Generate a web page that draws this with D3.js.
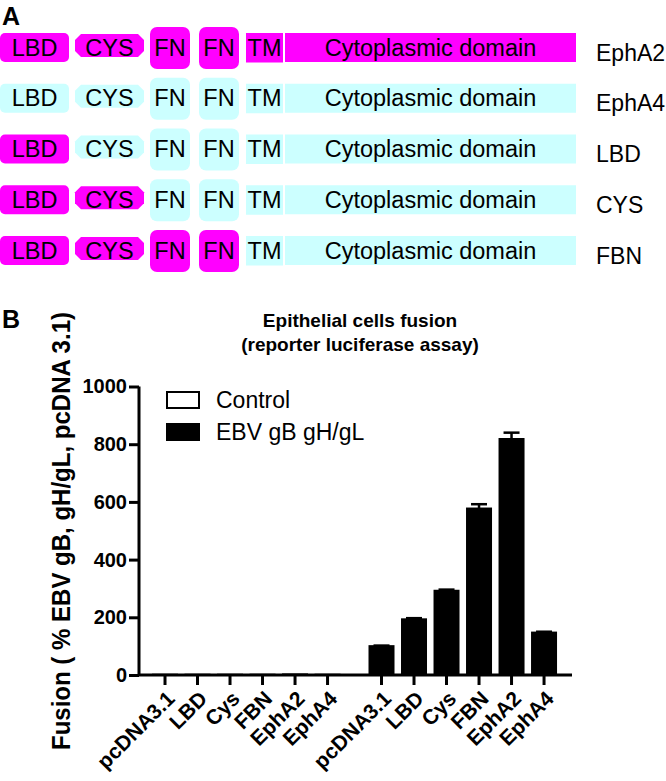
<!DOCTYPE html>
<html><head><meta charset="utf-8">
<script src="https://cdn.jsdelivr.net/npm/d3@7"></script>
<style>
html,body{margin:0;padding:0;background:#fff;}
svg{display:block;font-family:"Liberation Sans",Arial,sans-serif;}
</style></head>
<body>
<svg id="chart" width="666" height="781"></svg>
<script>
// ---------- Panel A data ----------
const constructs = ["EphA2", "EphA4", "LBD", "CYS", "FBN"];
const domainNames = ["LBD", "CYS", "FN", "FN", "TM", "Cytoplasmic domain"];
// number of leading domains that come from EphA2 (magenta), rest from EphA4 (cyan)
const ephA2DomainCount = [6, 0, 1, 2, 4];

// ---------- Panel B data ----------
const xLabels = ["pcDNA3.1", "LBD", "Cys", "FBN", "EphA2", "EphA4"];
const seriesNames = ["Control", "EBV gB gH/gL"];
const controlValues = [1, 1, 1, 1, 2, 1];
const controlErrors = [0, 0, 0, 0, 0, 0];
const ebvValues = [100, 193, 292, 577, 818, 147];
const ebvErrors = [2, 4, 4, 15, 22, 3];
const yTicks = [0, 200, 400, 600, 800, 1000];

const svg = d3.select("#chart");
const MAG = "#ff00ff", CYA = "#ccffff";

// ================= Panel A =================
svg.append("text").attr("x", 2).attr("y", 25).attr("font-size", 25).attr("font-weight", "bold").text("A");

const rowY = d3.scalePoint().domain(constructs).range([47.5, 250.5]);
const shapes = [
  {x0: 0,   x1: 69,  t: -14.5, b: 14.5, rx: 5, kind: "rect"},
  {x0: 75,  x1: 144, t: -13.5, b: 9.5,  cut: 6, kind: "oct"},
  {x0: 150, x1: 190, t: -20.5, b: 21.5, rx: 7, kind: "rect"},
  {x0: 199, x1: 239, t: -20.5, b: 21.5, rx: 7, kind: "rect"},
  {x0: 246, x1: 283, t: -14.5, b: 15,   rx: 0, kind: "rect"},
  {x0: 285, x1: 576, t: -14.5, b: 14.5, rx: 0, kind: "rect"}
];

constructs.forEach((c, ci) => {
  const cy = rowY(c);
  const g = svg.append("g");
  domainNames.forEach((dn, di) => {
    const s = shapes[di];
    const fill = di < ephA2DomainCount[ci] ? MAG : CYA;
    if (s.kind === "rect") {
      g.append("rect").attr("x", s.x0).attr("y", cy + s.t)
        .attr("width", s.x1 - s.x0).attr("height", s.b - s.t)
        .attr("rx", s.rx).attr("fill", fill);
    } else {
      const k = s.cut, y0 = cy + s.t, y1 = cy + s.b;
      const pts = [[s.x0 + k, y0], [s.x1 - k, y0], [s.x1, y0 + k], [s.x1, y1 - k],
                   [s.x1 - k, y1], [s.x0 + k, y1], [s.x0, y1 - k], [s.x0, y0 + k]];
      g.append("polygon").attr("points", pts.map(p => p.join(",")).join(" ")).attr("fill", fill);
    }
    g.append("text").attr("x", (s.x0 + s.x1) / 2).attr("y", cy + 8)
      .attr("text-anchor", "middle").attr("font-size", 23.5).attr("fill", "#000").text(dn);
  });
  svg.append("text").attr("x", 596).attr("y", cy + 13).attr("font-size", 23).text(c);
});

// ================= Panel B =================
svg.append("text").attr("x", 2).attr("y", 328).attr("font-size", 25).attr("font-weight", "bold").text("B");

svg.append("text").attr("x", 360).attr("y", 327).attr("text-anchor", "middle")
  .attr("font-size", 19).attr("font-weight", "bold").text("Epithelial cells fusion");
svg.append("text").attr("x", 360).attr("y", 351).attr("text-anchor", "middle")
  .attr("font-size", 19).attr("font-weight", "bold").text("(reporter luciferase assay)");

const y = d3.scaleLinear().domain([0, 1000]).range([675, 386.5]);
const groupGap = 6.66;
const x = d3.scaleLinear().domain([-0.8, 12.52]).range([139, 572]);
const barW = 24;

const groups = [
  {name: seriesNames[0], values: controlValues, errors: controlErrors, fill: "#fff", g: 0},
  {name: seriesNames[1], values: ebvValues, errors: ebvErrors, fill: "#000", g: 1}
];

const allTicks = [];
groups.forEach(gr => {
  gr.values.forEach((v, i) => {
    const cx = x(gr.g * groupGap + i);
    allTicks.push({cx, label: xLabels[i]});
    svg.append("rect").attr("x", cx - barW / 2).attr("y", y(v))
      .attr("width", barW).attr("height", y(0) - y(v))
      .attr("fill", gr.fill).attr("stroke", "#000").attr("stroke-width", 2);
    const e = gr.errors[i];
    if (e > 0) {
      svg.append("line").attr("x1", cx).attr("x2", cx).attr("y1", y(v)).attr("y2", y(v + e))
        .attr("stroke", "#000").attr("stroke-width", 2.5);
      svg.append("line").attr("x1", cx - 8).attr("x2", cx + 8).attr("y1", y(v + e)).attr("y2", y(v + e))
        .attr("stroke", "#000").attr("stroke-width", 2.5);
    }
  });
});

// y axis
const yAxis = svg.append("g").attr("transform", "translate(139,0)")
  .call(d3.axisLeft(y).tickValues(yTicks).tickFormat(d3.format("d")).tickSize(10).tickSizeOuter(0).tickPadding(2));
yAxis.selectAll("path,line").attr("stroke", "#000").attr("stroke-width", 3);
yAxis.select(".domain").attr("d", `M0,${y(1000)}V${y(0)}`);
yAxis.selectAll("text").attr("font-size", 20).attr("font-weight", "bold").attr("fill", "#000")
  .attr("font-family", "Liberation Sans, Arial, sans-serif");

// x axis
svg.append("line").attr("x1", 139).attr("x2", 572).attr("y1", y(0)).attr("y2", y(0))
  .attr("stroke", "#000").attr("stroke-width", 3);
allTicks.forEach(t => {
  svg.append("line").attr("x1", t.cx).attr("x2", t.cx).attr("y1", y(0)).attr("y2", y(0) + 10)
    .attr("stroke", "#000").attr("stroke-width", 3);
  svg.append("text").attr("transform", `translate(${t.cx + 11},${y(0) + 25}) rotate(-45)`)
    .attr("text-anchor", "end").attr("font-size", 21).attr("font-weight", "bold").text(t.label);
});

// y label
svg.append("text").attr("transform", "translate(70,531) rotate(-90)")
  .attr("text-anchor", "middle").attr("font-size", 26).attr("font-weight", "bold")
  .attr("textLength", 438).attr("lengthAdjust", "spacingAndGlyphs")
  .text("Fusion ( % EBV gB, gH/gL, pcDNA 3.1)");

// legend
groups.forEach((gr, i) => {
  const ly = 392 + i * 32;
  svg.append("rect").attr("x", 167).attr("y", ly).attr("width", 32).attr("height", 16)
    .attr("fill", gr.fill).attr("stroke", "#000").attr("stroke-width", 2);
  svg.append("text").attr("x", 216).attr("y", ly + 16).attr("font-size", 23).text(gr.name);
});
</script>
</body></html>
